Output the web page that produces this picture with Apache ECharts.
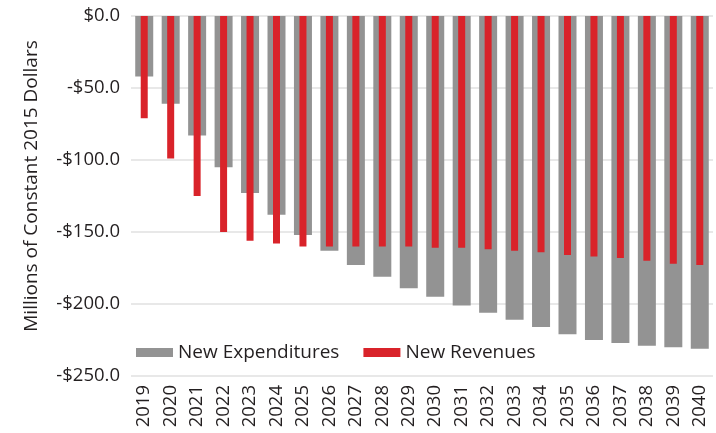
<!DOCTYPE html>
<html>
<head>
<meta charset="utf-8">
<script src="https://cdn.jsdelivr.net/npm/echarts@6/dist/echarts.min.js"></script>
<style>
  html, body { margin: 0; padding: 0; background: #fff; }
  #chart { width: 716px; height: 433px; }
</style>
</head>
<body>
<div id="chart"></div>
<script>
const years = ['2019', '2020', '2021', '2022', '2023', '2024', '2025', '2026', '2027', '2028', '2029',
  '2030', '2031', '2032', '2033', '2034', '2035', '2036', '2037', '2038', '2039', '2040']
const newExpenditures = [-42, -61, -83, -105, -123, -138, -152, -163, -173, -181, -189,
  -195, -201, -206, -211, -216, -221, -225, -227, -229, -230, -231]
const newRevenues = [-71, -99, -125, -150, -156, -158, -160, -160, -160, -160, -160,
  -161, -161, -162, -163, -164, -166, -167, -168, -170, -172, -173]
const yTicks = [0, -50, -100, -150, -200, -250]

const font = 'Open Sans'
const textColor = '#231f20'

const chart = echarts.init(document.getElementById('chart'))
chart.setOption({
  animation: false,
  textStyle: { fontFamily: font },
  grid: {
    left: 131,
    right: 3,
    top: 16,
    bottom: 57
  },
  legend: {
    left: 131,
    top: 338,
    itemWidth: 37,
    itemHeight: 9,
    itemGap: 24,
    icon: 'rect',
    textStyle: { fontSize: 19, color: textColor, fontFamily: font },
    data: ['New Expenditures', 'New Revenues']
  },
  xAxis: [
    {
      type: 'category',
      data: years,
      position: 'bottom',
      axisLine: { show: false },
      axisTick: { show: false },
      axisLabel: {
        rotate: 90,
        margin: 9,
        fontSize: 18.5,
        color: textColor,
        fontFamily: font
      }
    },
    {
      type: 'category',
      data: years,
      show: false
    }
  ],
  yAxis: {
    type: 'value',
    min: yTicks[yTicks.length - 1],
    max: yTicks[0],
    interval: 50,
    name: 'Millions of Constant 2015 Dollars',
    nameLocation: 'middle',
    nameGap: 90,
    nameTextStyle: { fontSize: 19, color: textColor, fontFamily: font, padding: [0, 0, 0, 20] },
    axisLine: { show: false },
    axisTick: { show: false },
    splitLine: { lineStyle: { color: '#e0e0e0', width: 1.5 } },
    axisLabel: {
      margin: 11,
      fontSize: 18.5,
      color: textColor,
      fontFamily: font,
      formatter: function (v) {
        return v === 0 ? '$0.0' : '-$' + Math.abs(v).toFixed(1)
      }
    }
  },
  series: [
    {
      name: 'New Expenditures',
      type: 'bar',
      xAxisIndex: 0,
      data: newExpenditures,
      barWidth: 18,
      itemStyle: { color: '#939393' },
      z: 2
    },
    {
      name: 'New Revenues',
      type: 'bar',
      xAxisIndex: 1,
      data: newRevenues,
      barWidth: 7,
      itemStyle: { color: '#d9232a' },
      z: 3
    }
  ]
})
</script>
</body>
</html>
